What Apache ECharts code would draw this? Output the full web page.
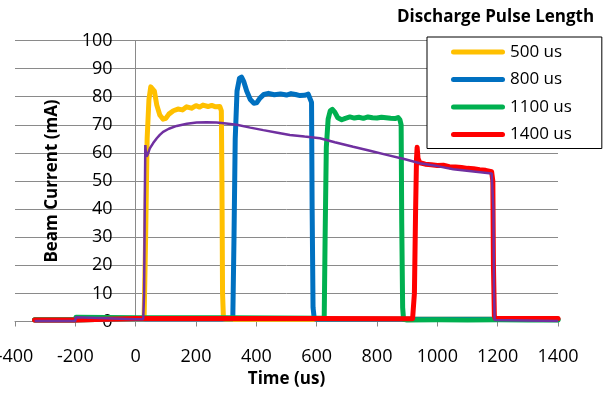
<!DOCTYPE html>
<html>
<head>
<meta charset="utf-8">
<script src="https://cdn.jsdelivr.net/npm/echarts@6/dist/echarts.min.js"></script>
<style>
html,body{margin:0;padding:0;background:#fff;}
#chart{width:605px;height:394px;}
</style>
</head>
<body>
<div id="chart"></div>
<script>
// ---- Data ----
const legendTitle = 'Discharge Pulse Length';
const seriesNames = ['500 us', '800 us', '1100 us', '1400 us'];
const xTicks = [-400, -200, 0, 200, 400, 600, 800, 1000, 1200, 1400];
const yTicks = [0, 10, 20, 30, 40, 50, 60, 70, 80, 90, 100];

const t500 = [-335,-200,-198,0,28,33,38,44,50,56,62,70,80,91,100,110,125,140,155,169,185,200,212,223,240,252,265,279,284,286,288,291,300,600,900,1200,1400];
const v500 = [0.5,0.5,1.2,1.1,1,30,65,79,83.5,84,82,77,73.5,72,72.3,73.8,75,75.6,75.3,76.4,75.9,76.8,76.3,77,76.5,76.9,76.4,76.5,75,50,10,1,0.8,0.8,0.8,0.8,0.8];

const t800 = [-335,-200,-198,0,322,326,330,336,344,351,358,368,380,392,401,412,425,440,460,480,500,515,530,545,560,572,578,583,585,588,592,600,900,1200,1400];
const v800 = [0.5,0.5,1.2,1.1,1,30,65,82,86.5,87,85.5,82,79,77.7,77.8,79.5,80.8,81.2,80.7,81,80.6,81.1,80.8,80.4,80.5,80.9,80.3,78,40,5,1,0.8,0.8,0.8,0.8];

const t1100 = [-335,-200,-198,0,300,625,628,632,638,645,652,660,670,683,695,710,725,740,755,770,785,800,815,830,845,860,870,876,880,882,885,888,900,1000,1100,1200,1300,1400];
const v1100 = [0.6,0.6,1.5,1.3,1.3,1.2,30,62,72,75,75.5,74.5,72.5,71.8,72.3,72.8,72.4,72.7,72.3,72.8,72.5,72.4,72.7,72.5,72.3,72.2,72.6,71.8,70,35,5,0.8,0.5,0.6,0.5,0.6,0.5,0.5];

const t1400 = [-335,-200,-198,0,300,600,918,924,928,931,933,936,942,960,980,1000,1020,1040,1060,1080,1100,1120,1140,1160,1180,1184,1186,1189,1192,1300,1400];
const v1400 = [0.5,0.5,1.2,1.1,1.1,1.1,1,10,40,58,62,58,56.5,56,55.8,55.5,55.6,55.1,55,54.8,54.5,54.4,54,53.8,53.3,50,20,2,1.1,1.1,1.1];

const tRef = [-335,-200,-199,-195,0,25,28,30,32,34,36,40,47,58,70,80,91,110,136,170,202,235,268,300,335,380,423,470,511,560,611,660,721,780,832,890,942,1000,1053,1120,1180,1186,1188,1190,1195,1400];
const vRef = [0.2,0.2,1.5,0.8,0.8,0.8,10,40,62.8,60,58.7,59.5,61.6,63.5,65.2,66.4,67.5,68.6,69.6,70.4,70.8,70.9,70.8,70.5,70,69,68.1,67.2,66.4,65.8,65.2,63.8,62.2,60.7,59.3,57.8,56.3,55.3,54.2,53.4,52.7,40,10,0.5,0.2,0.2];

const colors = ['#FFC000', '#0070C0', '#00B050', '#FF0000'];
const refColor = '#7030A0';

function pairs(t, v) { return t.map((x, i) => [x, v[i]]); }

const FONT = 'Open Sans';
const chart = echarts.init(document.getElementById('chart'), null, {renderer: 'canvas'});

const dataSets = [pairs(t500, v500), pairs(t800, v800), pairs(t1100, v1100), pairs(t1400, v1400)];
const series = dataSets.map((d, i) => ({
  name: seriesNames[i],
  type: 'line',
  data: d,
  showSymbol: false,
  symbol: 'none',
  lineStyle: {width: 5, color: colors[i], cap: 'round', join: 'round'},
  itemStyle: {color: colors[i]},
  animation: false,
  z: 2 + i
}));
series.push({
  name: 'ref',
  type: 'line',
  data: pairs(tRef, vRef),
  showSymbol: false,
  symbol: 'none',
  lineStyle: {width: 2.5, color: refColor},
  itemStyle: {color: refColor},
  animation: false,
  z: 10
});

const iconPath = 'path://M2.5,0 H51.5 A2.5,2.5 0 0 1 51.5,5 H2.5 A2.5,2.5 0 0 1 2.5,0 Z';

// grid: x from -400 (px 15) to 1400 (px 558); x=0 sits 120.7px right of grid left
const gridLeft = 15, gridRight = 47;
const plotW = 605 - gridLeft - gridRight;
const yAxisOffset = -plotW * (0 - xTicks[0]) / (xTicks[xTicks.length-1] - xTicks[0]);

chart.setOption({
  animation: false,
  backgroundColor: '#fff',
  title: {
    text: legendTitle,
    left: 392, top: 4,
    textStyle: {fontFamily: FONT, fontWeight: 'bold', fontSize: 17, color: '#000'}
  },
  legend: {
    data: seriesNames,
    orient: 'vertical',
    left: 427, top: 37,
    padding: [5, 30, 4, 24],
    itemWidth: 54, itemHeight: 5,
    itemGap: 7.5,
    icon: iconPath,
    backgroundColor: '#fff',
    borderColor: '#000', borderWidth: 1, borderRadius: 0,
    textStyle: {fontFamily: FONT, fontSize: 17, color: '#000', lineHeight: 20}
  },
  grid: {left: gridLeft, right: gridRight, top: 40.5, bottom: 72.5, containLabel: false, outerBoundsMode: 'none'},
  xAxis: {
    type: 'value', min: xTicks[0], max: xTicks[xTicks.length-1], interval: 200,
    name: 'Time (us)', nameLocation: 'middle', nameGap: 49,
    nameTextStyle: {fontFamily: FONT, fontWeight: 'bold', fontSize: 17, color: '#000'},
    axisLine: {show: true, onZero: false, lineStyle: {color: '#8a8a8a', width: 1}},
    axisTick: {show: true, length: 5, lineStyle: {color: '#8a8a8a'}},
    axisLabel: {fontFamily: FONT, fontSize: 18, color: '#000', margin: 26, formatter: v => String(v)},
    splitLine: {show: false}
  },
  yAxis: {
    type: 'value', min: yTicks[0], max: yTicks[yTicks.length-1], interval: 10,
    offset: yAxisOffset,
    name: 'Beam Current (mA)', nameLocation: 'middle', nameGap: 75,
    nameTextStyle: {fontFamily: FONT, fontWeight: 'bold', fontSize: 17, color: '#000'},
    axisLine: {show: true, onZero: false, lineStyle: {color: '#8a8a8a', width: 1}},
    axisTick: {show: false},
    axisLabel: {fontFamily: FONT, fontSize: 18, color: '#000', margin: 23, formatter: v => String(v)},
    splitLine: {show: true, lineStyle: {color: '#8a8a8a', width: 1}}
  },
  series: series
});
</script>
</body>
</html>
